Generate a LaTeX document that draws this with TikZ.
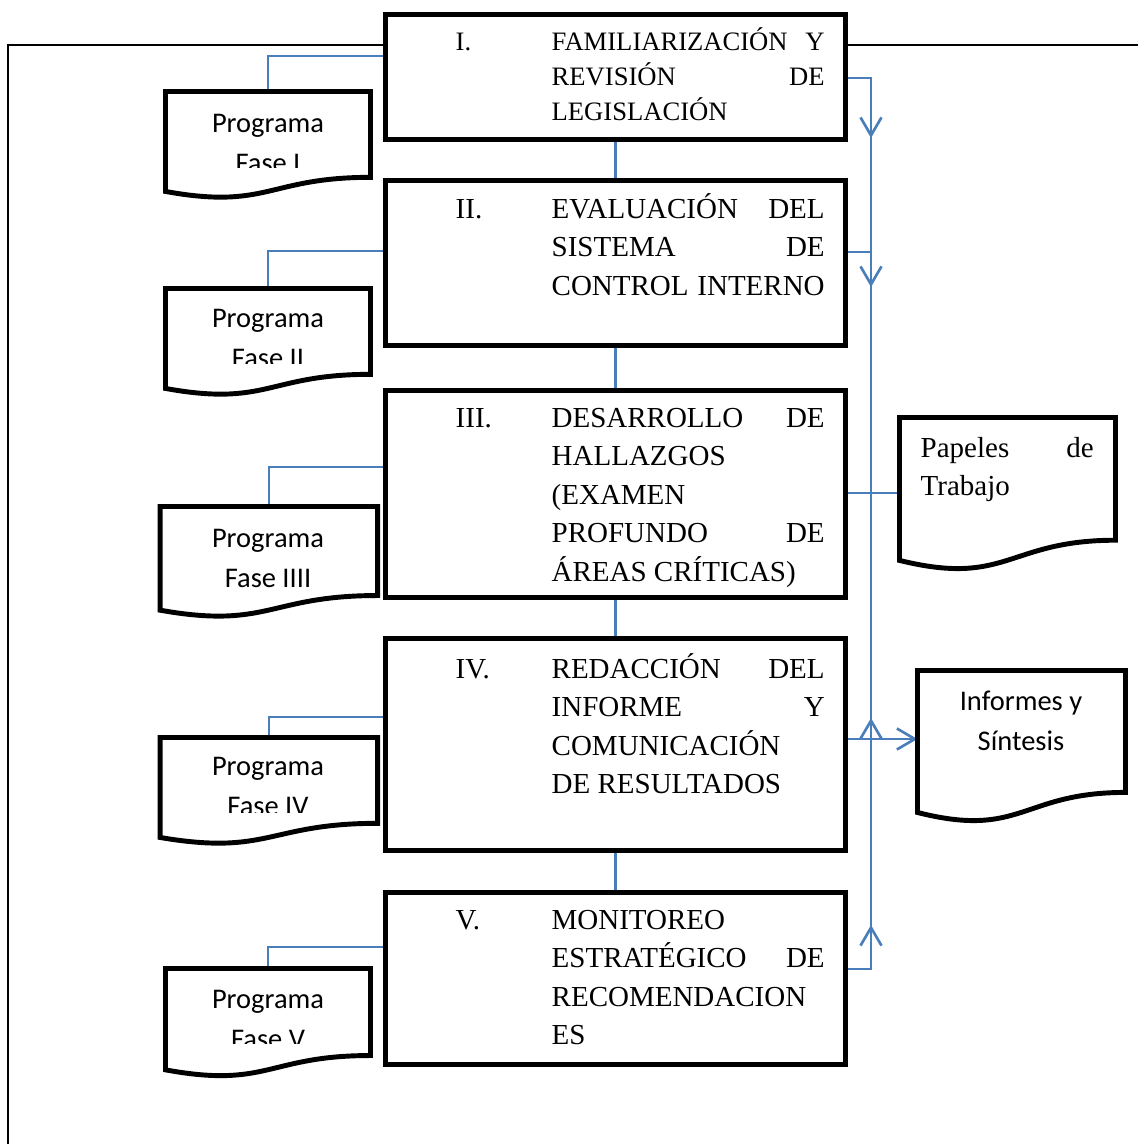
\documentclass[tikz,border=0pt]{standalone}
\usepackage{fontspec}
\setmainfont{Liberation Serif}
\newfontfamily\calibri{Carlito}
\usetikzlibrary{arrows.meta,calc}

\definecolor{azul}{HTML}{4A7EBB}

\tikzset{
  fase/.style={draw, line width=1.4pt, fill=white, minimum width=46mm},
  doc/.style={minimum width=#1, outer sep=0pt, inner sep=0pt},
  hoja/.style={draw, line width=1.4pt, fill=white},
  texto/.style={anchor=base west, inner sep=0pt, font=\fontsize{8.25}{11}\selectfont},
  prog/.style={anchor=base, inner sep=0pt, font=\calibri\fontsize{8.1}{11.4}\selectfont},
  enlace/.style={draw=azul, line width=0.6pt},
  flecha/.style={enlace, line width=0.75pt, -{Straight Barb[length=1.8mm,width=2.1mm]}},
  marco/.style={line width=0.6pt}
}

\newcommand{\textofase}[2]{\makebox[9.6mm][l]{#1}\parbox[t]{27.3mm}{#2}}
\newcommand{\programa}[1]{\parbox[t]{20mm}{\centering Programa\\Fase #1}}

\begin{document}
\begin{tikzpicture}[x=0.1mm, y=-0.1mm]
  \useasboundingbox (0,0) rectangle (1138,1144);
  \draw[marco] (1138,45) -- (8,45) -- (8,1144);

  % fases
  \node[fase, minimum height=12.5mm] (f1) at (615.5,77) {};
  \node[fase, minimum height=16.5mm] (f2) at (615.5,263) {};
  \node[fase, minimum height=20.7mm] (f3) at (615.5,494) {};
  \node[fase, minimum height=21.2mm] (f4) at (615.5,744.5) {};
  \node[fase, minimum height=17.2mm] (f5) at (615.5,978.5) {};

  % documentos
  \node[doc=20.5mm, minimum height=10.7mm] (p1) at (268,145) {};
  \node[doc=20.5mm, minimum height=10.7mm] (p2) at (268,342) {};
  \node[doc=21.75mm, minimum height=11.1mm] (p3) at (268.8,562) {};
  \node[doc=21.75mm, minimum height=10.7mm] (p4) at (268.8,791) {};
  \node[doc=20.5mm, minimum height=10.85mm] (p5) at (268,1022.75) {};
  \node[doc=21.6mm, minimum height=15.3mm] (pap) at (1007.5,494) {};
  \node[doc=20.8mm, minimum height=15.2mm] (inf) at (1021.5,746.5) {};

  \coordinate (l1) at (266,56);
  \coordinate (l2) at (266,251);
  \coordinate (l3) at (266,467);
  \coordinate (l4) at (266,717);
  \coordinate (l5) at (266,947);
  \coordinate (r1) at (871,78);
  \coordinate (a1) at (871,138);
  \coordinate (r2) at (871,252);
  \coordinate (a2) at (871,287);
  \coordinate (r3) at (871,493);
  \coordinate (a4) at (871,718);
  \coordinate (r4) at (871,739);
  \coordinate (a5) at (871,925);
  \coordinate (r5) at (871,969);

  % conectores
  \foreach \i in {1,...,5}
    \draw[enlace] (f\i.west |- l\i) -| (p\i.north);
  \foreach \i [count=\j from 2] in {1,...,4}
    \draw[enlace] (f\i.south) -- (f\j.north);
  \draw[enlace] (r1) -- (r5);
  \draw[flecha] (f1.east |- r1) -| (a1);
  \draw[flecha] (f2.east |- r2) -| (a2);
  \draw[enlace] (f3.east |- r3) -- (pap.west |- r3);
  \draw[flecha] (f4.east |- r4) -- (inf.west |- r4);
  \draw[flecha] (f5.east |- r5) -| (a5);
  \draw[flecha] (a5) -- (a4);

  \foreach \d in {p1,p2,p3,p4,p5,pap,inf}
    \draw[hoja] (\d.north west) -- (\d.north east)
      -- ($(\d.north east)!0.802!(\d.south east)$)
      .. controls ($(\d.north)!0.802!(\d.south)$) and ($(\d.north)!1.1075!(\d.south)$)
      .. ($(\d.north west)!0.934!(\d.south west)$) -- cycle;

  % textos
  \node[texto, font=\fontsize{7.57}{9.96}\selectfont] (t1) at (455,50)
    {\textofase{I.}{FAMILIARIZACIÓN\hfill Y\\REVISIÓN\hfill DE\\LEGISLACIÓN}};
  \node[texto] (t2) at (455,218)
    {\textofase{II.}{EVALUACIÓN\hfill DEL\\SISTEMA\hfill DE\\CONTROL\hfill INTERNO}};
  \node[texto] (t3) at (455,427)
    {\textofase{III.}{DESARROLLO\hfill DE\\HALLAZGOS\\(EXAMEN\\PROFUNDO\hfill DE\\ÁREAS CRÍTICAS)}};
  \node[texto] (t4) at (455,678)
    {\textofase{IV.}{REDACCIÓN\hfill DEL\\INFORME\hfill Y\\COMUNICACIÓN\\DE RESULTADOS}};
  \node[texto] (t5) at (455,929)
    {\textofase{V.}{MONITOREO\\ESTRATÉGICO\hfill DE\\RECOMENDACION\\ES}};

  \foreach \d/\n/\y/\c in {p1/I/132/167, p2/II/327/363, p3/IIII/547/600, p4/IV/775/812, p5/V/1008/1043} {
    \begin{scope}
      \clip (150,{\y-60}) rectangle (390,\c);
      \node[prog] (t\d) at (268,\y) {\programa{\n}};
    \end{scope}
  }
  \node[texto] (tpap) at (920,457) {\parbox[t]{17.3mm}{Papeles\hfill de\\Trabajo}};
  \node[prog] (tinf) at (1021,710) {\parbox[t]{20mm}{\centering Informes y\\Síntesis}};
\end{tikzpicture}
\end{document}
